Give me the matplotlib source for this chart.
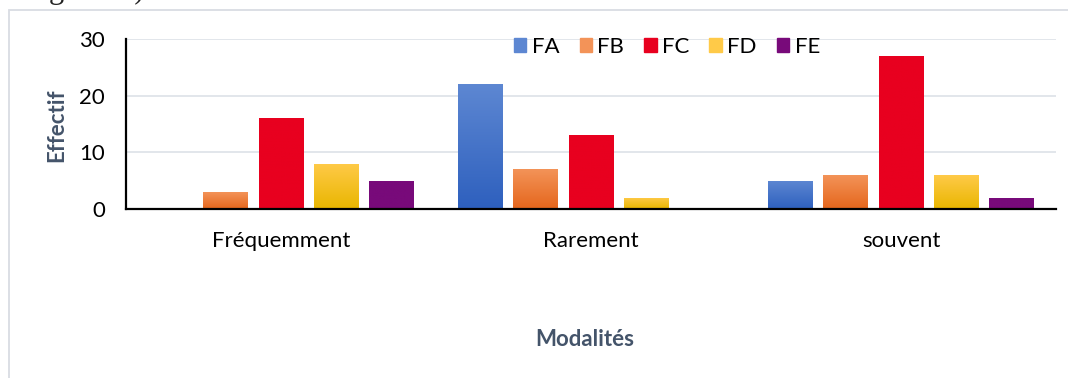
import numpy as np
from matplotlib import pyplot as plt
from matplotlib.colors import LinearSegmentedColormap
from matplotlib.patches import Rectangle

# effectifs par modalité et par facteur
modalites = ['Fréquemment', 'Rarement', 'souvent']
series = ['FA', 'FB', 'FC', 'FD', 'FE']
FA = [0, 22, 5]
FB = [3, 7, 6]
FC = [16, 13, 27]
FD = [8, 2, 6]
FE = [5, 0, 2]
valeurs = [FA, FB, FC, FD, FE]

# couleur du haut / du bas de chaque barre (dégradé vertical)
couleurs = [('#5D87D2', '#2E60BE'),
            ('#F39358', '#E5661C'),
            ('#E8001F', '#E8001F'),
            ('#FFCA48', '#E9B600'),
            ('#780A7A', '#780A7A')]

plt.rcParams['font.family'] = ['Lato', 'DejaVu Sans']

fig = plt.figure(figsize=(10.68, 3.78), dpi=100)
ax = fig.add_axes([126/1068, 1 - 209/378, 930/1068, 170/378])

# cadre du graphique
fig.patches.append(Rectangle((9/1068, -0.1), 1.2, 1 - 10/378 + 0.1,
                             transform=fig.transFigure, fill=False,
                             edgecolor='#D9DCE3', linewidth=1.3))
# fin de la phrase du document au-dessus du graphique
fig.text(0.0, 1 + 2/378, 'catégorie »).', fontsize=22, family='Liberation Serif',
         va='baseline', ha='left', color='#222222')

x = np.arange(len(modalites))
step = 0.178
width = 0.145

for i, (nom, vals, (haut, bas)) in enumerate(zip(series, valeurs, couleurs)):
    pos = x + (i - 2) * step
    bars = ax.bar(pos, vals, width, color=haut, label=nom, zorder=3)
    cmap = LinearSegmentedColormap.from_list(nom, [bas, haut])
    grad = np.linspace(0, 1, 100).reshape(-1, 1)
    for b in bars:
        if b.get_height() <= 0:
            continue
        b.set_facecolor('none')
        b.set_edgecolor('none')
        im = ax.imshow(grad, cmap=cmap, origin='lower', aspect='auto',
                       extent=[b.get_x(), b.get_x() + b.get_width(), 0, b.get_height()],
                       zorder=3)
        im.set_clip_path(b)

ax.set_xlim(-0.5, 2.5)
ax.set_ylim(0, 30)
ax.set_yticks([0, 10, 20, 30])
ax.set_xticks(x)
ax.set_xticklabels(modalites)
ax.tick_params(axis='both', length=0, labelsize=16, colors='black')
ax.tick_params(axis='y', pad=15)
ax.tick_params(axis='x', pad=16)

ax.grid(axis='y', color='#DDE1E8', linewidth=1.2, zorder=0)
for s in ['top', 'right']:
    ax.spines[s].set_visible(False)
for s in ['left', 'bottom']:
    ax.spines[s].set_linewidth(1.6)
    ax.spines[s].set_zorder(4)

fig.text(57/1068, 1 - 125/378, 'Effectif', rotation=90, ha='center', va='center',
         fontsize=16, fontweight='bold', color='#44546A')
fig.text(585/1068, 1 - 340/378, 'Modalités', ha='center', va='center',
         fontsize=16, fontweight='bold', color='#44546A')

handles = [Rectangle((0, 0), 1, 1, color=c[1] if c[0] == c[1] else c[0]) for c in couleurs]
fig.legend(handles, series, loc='center', bbox_to_anchor=(667/1068, 1 - 47/378),
           ncol=5, frameon=False, fontsize=16, handlelength=0.55, handleheight=0.55,
           handletextpad=0.25, columnspacing=0.9)

plt.savefig('out.png', dpi=100)
